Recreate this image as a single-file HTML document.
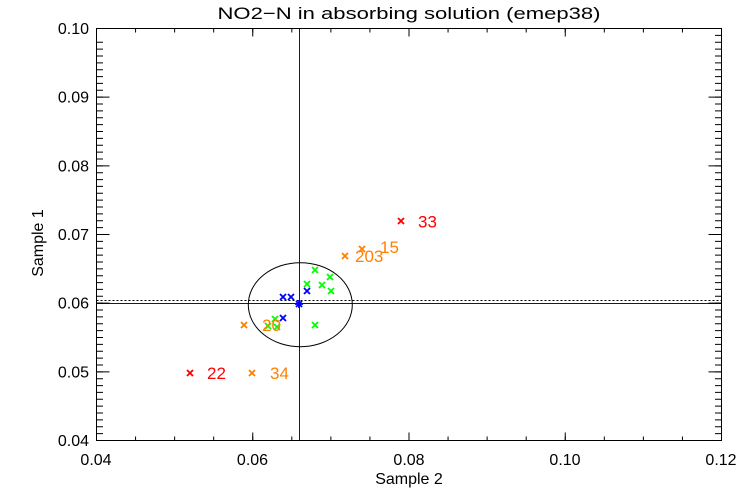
<!DOCTYPE html>
<html>
<head>
<meta charset="utf-8">
<style>
html,body{margin:0;padding:0;background:#fff;}
svg{display:block;}
text{font-family:"Liberation Sans",sans-serif;}
</style>
</head>
<body>
<svg width="750" height="500" viewBox="0 0 750 500" xmlns="http://www.w3.org/2000/svg">
<rect width="750" height="500" fill="#fff"/>

<!-- title -->
<text x="409" y="19" font-size="17" text-anchor="middle" textLength="383" lengthAdjust="spacingAndGlyphs" fill="#000">NO2−N in absorbing solution (emep38)</text>

<!-- reference lines -->
<line x1="299.5" y1="28.5" x2="299.5" y2="440.5" stroke="#0000ff" stroke-width="1"/>
<line x1="96.5" y1="303.5" x2="721.5" y2="303.5" stroke="#0000ff" stroke-width="1"/>
<line x1="96.5" y1="300.5" x2="721.5" y2="300.5" stroke="#000" stroke-width="1" stroke-dasharray="2 2"/>

<!-- ellipse -->
<ellipse cx="300.3" cy="304.7" rx="52" ry="42" fill="none" stroke="#000" stroke-width="1"/>

<!-- axes box -->
<rect x="96.5" y="28.5" width="625" height="412" fill="none" stroke="#000" stroke-width="1"/>

<!-- minor ticks -->
<g stroke="#000" stroke-width="1" fill="none">
<path d="M96.5 440.5h6.5m-6.5-6.8667h6.5m-6.5-6.8667h6.5m-6.5-6.8667h6.5m-6.5-6.8667h6.5m-6.5-6.8667h6.5m-6.5-6.8667h6.5m-6.5-6.8667h6.5m-6.5-6.8667h6.5m-6.5-6.8667h6.5m-6.5-6.8667h6.5m-6.5-6.8667h6.5m-6.5-6.8667h6.5m-6.5-6.8667h6.5m-6.5-6.8667h6.5m-6.5-6.8667h6.5m-6.5-6.8667h6.5m-6.5-6.8667h6.5m-6.5-6.8667h6.5m-6.5-6.8667h6.5m-6.5-6.8667h6.5m-6.5-6.8667h6.5m-6.5-6.8667h6.5m-6.5-6.8667h6.5m-6.5-6.8667h6.5m-6.5-6.8667h6.5m-6.5-6.8667h6.5m-6.5-6.8667h6.5m-6.5-6.8667h6.5m-6.5-6.8667h6.5m-6.5-6.8667h6.5m-6.5-6.8667h6.5m-6.5-6.8667h6.5m-6.5-6.8667h6.5m-6.5-6.8667h6.5m-6.5-6.8667h6.5m-6.5-6.8667h6.5m-6.5-6.8667h6.5m-6.5-6.8667h6.5m-6.5-6.8667h6.5m-6.5-6.8667h6.5m-6.5-6.8667h6.5m-6.5-6.8667h6.5m-6.5-6.8667h6.5m-6.5-6.8667h6.5m-6.5-6.8667h6.5m-6.5-6.8667h6.5m-6.5-6.8667h6.5m-6.5-6.8667h6.5m-6.5-6.8667h6.5m-6.5-6.8667h6.5m-6.5-6.8667h6.5m-6.5-6.8667h6.5m-6.5-6.8667h6.5m-6.5-6.8667h6.5m-6.5-6.8667h6.5m-6.5-6.8667h6.5m-6.5-6.8667h6.5m-6.5-6.8667h6.5"/>
<path d="M721.5 440.5h-6.5m6.5-6.8667h-6.5m6.5-6.8667h-6.5m6.5-6.8667h-6.5m6.5-6.8667h-6.5m6.5-6.8667h-6.5m6.5-6.8667h-6.5m6.5-6.8667h-6.5m6.5-6.8667h-6.5m6.5-6.8667h-6.5m6.5-6.8667h-6.5m6.5-6.8667h-6.5m6.5-6.8667h-6.5m6.5-6.8667h-6.5m6.5-6.8667h-6.5m6.5-6.8667h-6.5m6.5-6.8667h-6.5m6.5-6.8667h-6.5m6.5-6.8667h-6.5m6.5-6.8667h-6.5m6.5-6.8667h-6.5m6.5-6.8667h-6.5m6.5-6.8667h-6.5m6.5-6.8667h-6.5m6.5-6.8667h-6.5m6.5-6.8667h-6.5m6.5-6.8667h-6.5m6.5-6.8667h-6.5m6.5-6.8667h-6.5m6.5-6.8667h-6.5m6.5-6.8667h-6.5m6.5-6.8667h-6.5m6.5-6.8667h-6.5m6.5-6.8667h-6.5m6.5-6.8667h-6.5m6.5-6.8667h-6.5m6.5-6.8667h-6.5m6.5-6.8667h-6.5m6.5-6.8667h-6.5m6.5-6.8667h-6.5m6.5-6.8667h-6.5m6.5-6.8667h-6.5m6.5-6.8667h-6.5m6.5-6.8667h-6.5m6.5-6.8667h-6.5m6.5-6.8667h-6.5m6.5-6.8667h-6.5m6.5-6.8667h-6.5m6.5-6.8667h-6.5m6.5-6.8667h-6.5m6.5-6.8667h-6.5m6.5-6.8667h-6.5m6.5-6.8667h-6.5m6.5-6.8667h-6.5m6.5-6.8667h-6.5m6.5-6.8667h-6.5m6.5-6.8667h-6.5m6.5-6.8667h-6.5m6.5-6.8667h-6.5m6.5-6.8667h-6.5"/>
<path d="M96.5 440.5v-4m39.0625 4v-4m39.0625 4v-4m39.0625 4v-4m39.0625 4v-4m39.0625 4v-4m39.0625 4v-4m39.0625 4v-4m39.0625 4v-4m39.0625 4v-4m39.0625 4v-4m39.0625 4v-4m39.0625 4v-4m39.0625 4v-4m39.0625 4v-4m39.0625 4v-4m39.0625 4v-4"/>
<path d="M96.5 28.5v4m39.0625-4v4m39.0625-4v4m39.0625-4v4m39.0625-4v4m39.0625-4v4m39.0625-4v4m39.0625-4v4m39.0625-4v4m39.0625-4v4m39.0625-4v4m39.0625-4v4m39.0625-4v4m39.0625-4v4m39.0625-4v4m39.0625-4v4m39.0625-4v4"/>
<!-- major ticks -->
<path d="M96.5 440.5h13M96.5 371.83h13M96.5 303.17h13M96.5 234.5h13M96.5 165.83h13M96.5 97.17h13M96.5 28.5h13"/>
<path d="M721.5 440.5h-13M721.5 371.83h-13M721.5 303.17h-13M721.5 234.5h-13M721.5 165.83h-13M721.5 97.17h-13M721.5 28.5h-13"/>
<path d="M96.5 440.5v-8M252.75 440.5v-8M409 440.5v-8M565.25 440.5v-8M721.5 440.5v-8"/>
<path d="M96.5 28.5v8M252.75 28.5v8M409 28.5v8M565.25 28.5v8M721.5 28.5v8"/>
</g>

<!-- y tick labels -->
<g font-size="16" fill="#000" text-anchor="end">
<text x="89" y="446">0.04</text>
<text x="89" y="377.3">0.05</text>
<text x="89" y="308.7">0.06</text>
<text x="89" y="240">0.07</text>
<text x="89" y="171.3">0.08</text>
<text x="89" y="102.7">0.09</text>
<text x="89" y="34">0.10</text>
</g>
<!-- x tick labels -->
<g font-size="16" fill="#000" text-anchor="middle">
<text x="96" y="465">0.04</text>
<text x="252.5" y="465">0.06</text>
<text x="409" y="465">0.08</text>
<text x="565" y="465">0.10</text>
<text x="721" y="465">0.12</text>
</g>

<!-- axis titles -->
<text x="409" y="484" font-size="16" text-anchor="middle" fill="#000">Sample 2</text>
<text transform="translate(43,243) rotate(-90)" font-size="16" text-anchor="middle" fill="#000">Sample 1</text>

<!-- markers -->
<g fill="none" stroke-width="1.8">
<!-- green -->
<g stroke="#00ff00">
<path d="M312 267l6 6m0-6l-6 6"/>
<path d="M327 274l6 6m0-6l-6 6"/>
<path d="M304 281l6 6m0-6l-6 6"/>
<path d="M319 282l6 6m0-6l-6 6"/>
<path d="M328 288l6 6m0-6l-6 6"/>
<path d="M312 322l6 6m0-6l-6 6"/>
<path d="M272 316l6 6m0-6l-6 6"/>
<path d="M274 324l6 6m0-6l-6 6"/>
<path d="M265 323l6 6m0-6l-6 6"/>
</g>
<!-- blue -->
<g stroke="#0000ff">
<path d="M304 288l6 6m0-6l-6 6"/>
<path d="M280 294l6 6m0-6l-6 6"/>
<path d="M288 294l6 6m0-6l-6 6"/>
<path d="M280 315l6 6m0-6l-6 6"/>
<path d="M296 301l6 6m0-6l-6 6M299 300v8M295 304h8"/>
</g>
<!-- orange -->
<g stroke="#ff8000">
<path d="M241 322l6 6m0-6l-6 6"/>
<path d="M342 253l6 6m0-6l-6 6"/>
<path d="M359 246l6 6m0-6l-6 6"/>
<path d="M249 370l6 6m0-6l-6 6"/>
</g>
<!-- red -->
<g stroke="#ff0000">
<path d="M187 370l6 6m0-6l-6 6"/>
<path d="M398 218l6 6m0-6l-6 6"/>
</g>
</g>

<!-- point labels -->
<g font-size="17">
<text x="207" y="379" fill="#ff0000">22</text>
<text x="418" y="227.5" fill="#ff0000">33</text>
<text x="270" y="379" fill="#ff8000">34</text>
<text x="355" y="262" fill="#ff8000">203</text>
<text x="380" y="253" fill="#ff8000">15</text>
<text x="262" y="331" fill="#ff8000">20</text>
</g>
</svg>
</body>
</html>
